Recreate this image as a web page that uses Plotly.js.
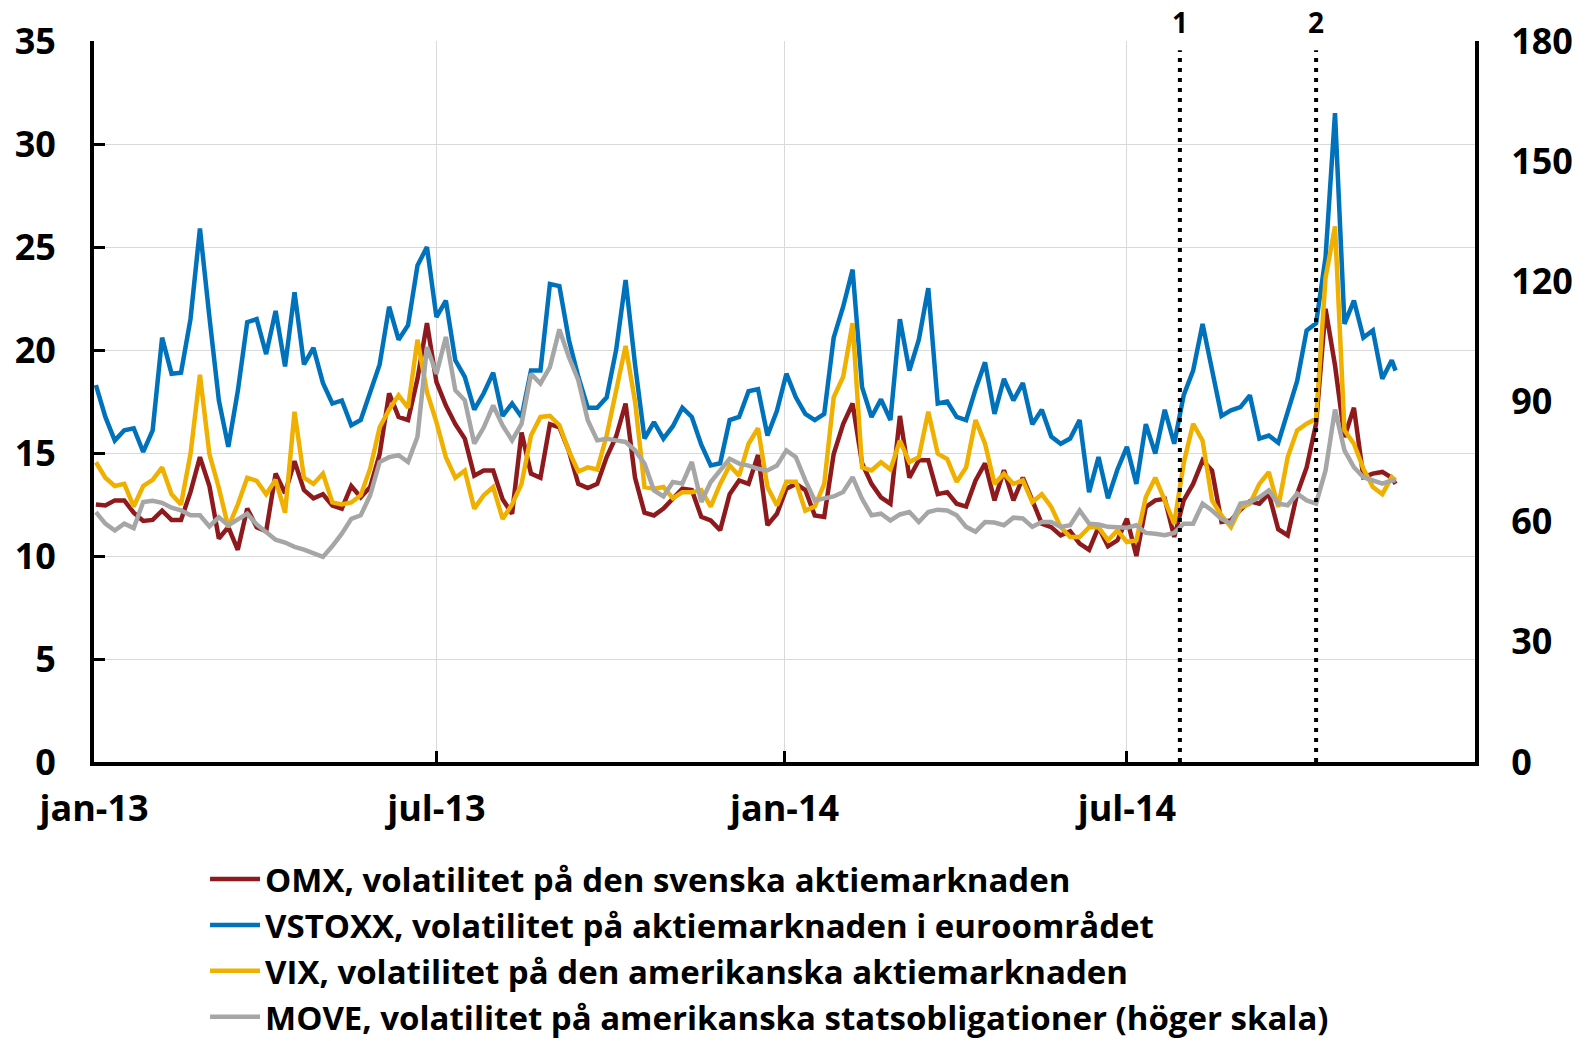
<!DOCTYPE html>
<html>
<head>
<meta charset="utf-8">
<script src="https://cdn.plot.ly/plotly-3.0.1.min.js"></script>
<style>
html,body{margin:0;padding:0;background:#ffffff;}
#chart{width:1591px;height:1041px;}
</style>
</head>
<body>
<div id="chart"></div>
<script>
// Dates (approx. every 5 days)
const dates = [
"2013-01-02","2013-01-07","2013-01-12","2013-01-17","2013-01-22","2013-01-27","2013-02-01","2013-02-06","2013-02-11","2013-02-16",
"2013-02-21","2013-02-26","2013-03-03","2013-03-08","2013-03-13","2013-03-18","2013-03-23","2013-03-28","2013-04-02","2013-04-07",
"2013-04-12","2013-04-17","2013-04-22","2013-04-27","2013-05-02","2013-05-07","2013-05-12","2013-05-17","2013-05-22","2013-05-27",
"2013-06-01","2013-06-06","2013-06-11","2013-06-16","2013-06-21","2013-06-26","2013-07-01","2013-07-06","2013-07-11","2013-07-16",
"2013-07-21","2013-07-26","2013-07-31","2013-08-05","2013-08-10","2013-08-15","2013-08-20","2013-08-25","2013-08-30","2013-09-04",
"2013-09-09","2013-09-14","2013-09-19","2013-09-24","2013-09-29","2013-10-04","2013-10-09","2013-10-14","2013-10-19","2013-10-24",
"2013-10-29","2013-11-03","2013-11-08","2013-11-13","2013-11-18","2013-11-23","2013-11-28","2013-12-03","2013-12-08","2013-12-13",
"2013-12-18","2013-12-23","2013-12-28","2014-01-02","2014-01-07","2014-01-12","2014-01-17","2014-01-22","2014-01-27","2014-02-01",
"2014-02-06","2014-02-11","2014-02-16","2014-02-21","2014-02-26","2014-03-03","2014-03-08","2014-03-13","2014-03-18","2014-03-23",
"2014-03-28","2014-04-02","2014-04-07","2014-04-12","2014-04-17","2014-04-22","2014-04-27","2014-05-02","2014-05-07","2014-05-12",
"2014-05-17","2014-05-22","2014-05-27","2014-06-01","2014-06-06","2014-06-11","2014-06-16","2014-06-21","2014-06-26","2014-07-01",
"2014-07-06","2014-07-11","2014-07-16","2014-07-21","2014-07-26","2014-07-31","2014-08-05","2014-08-10","2014-08-15","2014-08-20",
"2014-08-25","2014-08-30","2014-09-04","2014-09-09","2014-09-14","2014-09-19","2014-09-24","2014-09-29","2014-10-04","2014-10-09",
"2014-10-14","2014-10-19","2014-10-24","2014-10-29","2014-11-03","2014-11-08","2014-11-13","2014-11-18","2014-11-20"
];

// OMX (left scale)
const omx = [
12.5,12.45,12.7,12.7,12.1,11.7,11.75,12.2,11.75,11.75,
13.1,14.8,13.4,10.85,11.4,10.3,12.3,11.4,11.2,14.0,
13.05,14.6,13.2,12.8,13.0,12.45,12.3,13.4,12.85,13.35,
14.95,17.9,16.75,16.6,18.6,21.3,18.45,17.3,16.4,15.7,
13.9,14.15,14.15,12.75,12.05,16.0,14.0,13.8,16.4,16.25,
15.1,13.5,13.3,13.5,14.8,15.8,17.4,13.8,12.1,11.97,
12.3,12.8,13.27,13.2,11.9,11.73,11.25,13.0,13.67,13.5,
14.9,11.5,12.05,13.27,13.5,13.2,11.97,11.9,14.95,16.4,
17.4,14.5,13.5,12.85,12.54,16.8,13.8,14.65,14.65,13.0,
13.1,12.54,12.4,13.67,14.5,12.7,14.16,12.7,13.8,12.7,
11.57,11.4,11.0,11.2,10.6,10.3,11.4,10.47,10.76,11.81,
10.0,12.38,12.7,12.78,10.92,12.7,13.5,14.64,14.15,11.65,
11.73,12.24,12.66,12.54,13.02,11.3,11.0,13.02,14.3,16.42,
22.0,19.25,15.77,17.2,13.83,14.0,14.08,13.8,13.5
];

// VSTOXX (left scale)
const vstoxx = [
18.3,16.75,15.6,16.1,16.2,15.05,16.1,20.6,18.85,18.9,
21.5,25.9,21.6,17.55,15.3,18.0,21.35,21.5,19.8,21.9,
19.2,22.8,19.3,20.1,18.4,17.4,17.55,16.35,16.6,18.0,
19.3,22.1,20.5,21.2,24.1,25.0,21.6,22.4,19.5,18.7,
17.1,17.9,18.9,16.8,17.4,16.75,19.0,19.0,23.2,23.1,
20.5,18.7,17.2,17.2,17.7,20.0,23.4,19.3,15.7,16.5,
15.7,16.3,17.2,16.75,15.4,14.4,14.5,16.6,16.75,18.0,
18.1,15.85,17.05,18.85,17.7,16.9,16.6,16.9,20.6,22.1,
23.9,18.2,16.75,17.6,16.6,21.5,19.0,20.5,23.0,17.4,
17.5,16.75,16.6,18.1,19.4,16.9,18.6,17.55,18.4,16.4,
17.1,15.8,15.45,15.7,16.6,13.1,14.8,12.8,14.2,15.3,
13.5,16.4,14.97,17.1,15.45,17.8,19.0,21.27,19.0,16.8,
17.07,17.23,17.8,15.7,15.85,15.5,17.0,18.5,20.95,21.3,
24.5,31.5,21.27,22.4,20.6,20.95,18.6,19.5,19.0
];

// VIX (left scale)
const vix = [
14.55,13.8,13.4,13.5,12.4,13.4,13.7,14.3,13.0,12.5,
14.95,18.8,14.95,13.3,11.4,12.5,13.8,13.65,13.0,13.7,
12.1,17.0,13.8,13.5,14.0,12.6,12.5,12.6,12.95,14.25,
16.25,17.1,17.8,17.2,20.5,17.96,16.5,14.8,13.8,14.15,
12.3,12.95,13.35,11.8,12.5,13.5,15.85,16.75,16.8,16.35,
15.1,14.1,14.3,14.2,15.85,18.0,20.2,17.5,13.35,13.27,
13.35,12.8,13.1,13.1,13.2,12.4,13.5,14.4,13.9,15.45,
16.2,13.35,12.45,13.6,13.6,12.2,12.4,13.5,17.7,18.7,
21.3,14.3,14.15,14.55,14.2,15.6,14.56,14.8,17.0,14.97,
14.7,13.6,14.3,16.6,15.45,13.5,13.99,13.5,13.67,12.62,
13.0,12.38,11.4,10.92,10.92,11.4,11.4,10.76,11.24,10.68,
10.76,12.86,13.8,12.7,11.57,14.5,16.42,15.6,12.7,11.97,
11.4,12.34,12.54,13.5,14.07,12.38,14.8,16.1,16.42,16.66,
23.5,26.0,16.1,15.45,14.24,13.35,13.0,13.83,13.67
];

// MOVE (right scale)
const move = [
62.4,59.5,57.8,59.5,58.4,64.9,65.2,64.7,63.5,62.8,
61.6,61.6,58.8,61.1,59.1,60.5,62.0,59.3,57.4,55.5,
54.8,53.7,53.0,52.0,51.2,53.9,57.0,60.7,61.6,66.6,
74.9,76.1,76.6,74.9,81.2,103.6,96.9,106.1,92.8,90.3,
79.5,83.5,89.0,84.0,80.3,84.4,96.9,94.5,98.6,108.0,
101.1,95.3,85.3,80.3,80.7,80.3,79.9,77.8,74.5,67.8,
66.3,69.9,69.5,74.9,64.9,69.9,72.8,75.7,74.5,74.0,
73.2,72.8,74.0,77.8,76.1,70.3,65.3,65.7,66.3,67.4,
71.1,65.7,61.6,62.0,60.3,61.8,62.4,59.9,62.4,63.0,
62.8,61.6,58.7,57.5,59.9,59.8,59.1,61.0,60.8,58.7,
59.9,59.9,58.7,59.1,62.8,59.5,59.3,58.7,58.5,58.5,
59.1,57.2,57.0,56.6,57.2,59.5,59.5,64.5,62.8,60.7,
59.5,64.5,64.9,66.1,67.8,64.5,64.1,67.0,65.3,64.5,
72.8,88.0,77.8,73.6,71.1,70.3,69.5,70.3,70.3
];

const seriesNames = [
"OMX, volatilitet på den svenska aktiemarknaden",
"VSTOXX, volatilitet på aktiemarknaden i euroområdet",
"VIX, volatilitet på den amerikanska aktiemarknaden",
"MOVE, volatilitet på amerikanska statsobligationer (höger skala)"
];
const seriesColors = ["#8E1A1E","#0072BB","#F0B000","#A6A6A6"];

const xTickVals = ["2013-01-01","2013-07-01","2014-01-01","2014-07-01"];
const xTickText = ["jan-13","jul-13","jan-14","jul-14"];
const xRange = ["2013-01-01","2015-01-01"];
const eventDates = ["2014-07-29","2014-10-09"];
const eventLabels = ["1","2"];

const FONT = "Open Sans, Noto Sans, DejaVu Sans, sans-serif";
const LW = 4.5;

const traces = [
  {x: dates, y: omx, name: seriesNames[0], type: "scatter", mode: "lines",
   line: {color: seriesColors[0], width: LW}},
  {x: dates, y: vstoxx, name: seriesNames[1], type: "scatter", mode: "lines",
   line: {color: seriesColors[1], width: LW}},
  {x: dates, y: vix, name: seriesNames[2], type: "scatter", mode: "lines",
   line: {color: seriesColors[2], width: LW}},
  {x: dates, y: move, name: seriesNames[3], type: "scatter", mode: "lines",
   yaxis: "y2", line: {color: seriesColors[3], width: LW}}
];

const shapes = eventDates.map(d => ({
  type: "line", xref: "x", yref: "paper", x0: d, x1: d, y0: 0, y1: 0.987,
  line: {color: "#000000", width: 4, dash: "4px,6px"}, layer: "above"
}));
const annotations = eventDates.map((d, i) => ({
  x: d, xref: "x", y: 1, yref: "paper", yanchor: "bottom", yshift: -2,
  text: eventLabels[i], showarrow: false,
  font: {family: FONT, size: 28, weight: 700, color: "#000000"}
}));

const tickFont = {family: FONT, size: 36, weight: 700, color: "#000000"};

const layout = {
  width: 1591, height: 1041,
  margin: {l: 94, r: 116, t: 41, b: 279, pad: 0, autoexpand: false},
  paper_bgcolor: "#ffffff", plot_bgcolor: "#ffffff",
  font: {family: FONT, color: "#000000"},
  showlegend: true,
  legend: {
    x: 0.0804, xanchor: "left", y: -0.1235, yanchor: "top",
    orientation: "v", bgcolor: "rgba(0,0,0,0)", borderwidth: 0,
    font: {family: FONT, size: 33, weight: 700, color: "#000000"},
    tracegroupgap: 0, traceorder: "normal", itemwidth: 50
  },
  xaxis: {
    type: "date", range: xRange, tickmode: "array",
    tickvals: xTickVals, ticktext: xTickText,
    ticks: "inside", ticklen: 11, tickwidth: 3, tickcolor: "#000000",
    showline: true, linewidth: 4, linecolor: "#000000",
    showgrid: true, gridcolor: "#d9d9d9", gridwidth: 1,
    zeroline: false, tickfont: tickFont, ticklabelstandoff: 12
  },
  yaxis: {
    range: [0, 35], dtick: 5, tick0: 0,
    ticks: "inside", ticklen: 11, tickwidth: 3, tickcolor: "#000000",
    showline: true, linewidth: 4, linecolor: "#000000",
    showgrid: true, gridcolor: "#d9d9d9", gridwidth: 1,
    zeroline: false, tickfont: tickFont, ticklabelstandoff: 27
  },
  yaxis2: {
    range: [0, 180], dtick: 30, tick0: 0, overlaying: "y", side: "right",
    ticks: "", showline: true, linewidth: 4, linecolor: "#000000",
    showgrid: false, zeroline: false, tickfont: tickFont, ticklabelstandoff: 25
  },
  shapes: shapes,
  annotations: annotations
};

Plotly.newPlot("chart", traces, layout, {displayModeBar: false, responsive: false});
</script>
</body>
</html>
